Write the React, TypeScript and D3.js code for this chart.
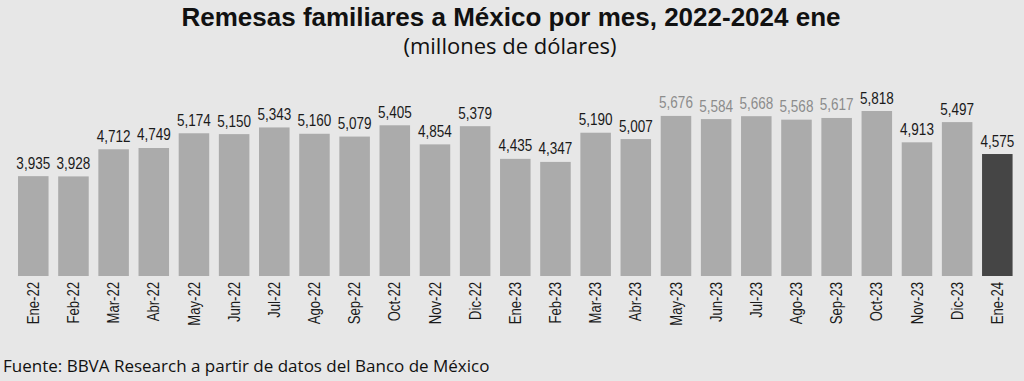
import React from "react";
import * as d3 from "d3";

const categories = [
  "Ene-22", "Feb-22", "Mar-22", "Abr-22", "May-22", "Jun-22", "Jul-22", "Ago-22", "Sep-22", "Oct-22", "Nov-22", "Dic-22",
  "Ene-23", "Feb-23", "Mar-23", "Abr-23", "May-23", "Jun-23", "Jul-23", "Ago-23", "Sep-23", "Oct-23", "Nov-23", "Dic-23",
  "Ene-24",
];
const values = [
  3935, 3928, 4712, 4749, 5174, 5150, 5343, 5160, 5079, 5405, 4854, 5379,
  4435, 4347, 5190, 5007, 5676, 5584, 5668, 5568, 5617, 5818, 4913, 5497,
  4575,
];
const highlighted = ["Ene-24"];
const preliminaryLabels = ["May-23", "Jun-23", "Jul-23", "Ago-23", "Sep-23"];

const title = "Remesas familiares a México por mes, 2022-2024 ene";
const subtitle = "(millones de dólares)";
const source = "Fuente: BBVA Research a partir de datos del Banco de México";

const W = 1024;
const H = 381;
const sans = "'Liberation Sans', Arial, sans-serif";
const open = "'Open Sans', 'Noto Sans', sans-serif";
const NARROW = 0.82;

export default function App() {
  const x = d3
    .scaleBand<string>()
    .domain(categories)
    .range([13.2, 1017.4])
    .paddingInner(0.24)
    .paddingOuter(0.12);
  const y = d3.scaleLinear().domain([1050, 5818]).range([276, 111]);
  const fmt = d3.format(",");

  return (
    <svg
      width={W}
      height={H}
      style={{ position: "absolute", left: 0, top: 0, display: "block" }}
    >
      <rect x={0} y={0} width={W} height={H} fill="#e7e7e7" />
      <text
        x={511}
        y={25.5}
        textAnchor="middle"
        fontFamily={sans}
        fontWeight="bold"
        fontSize={26}
        fill="#111"
      >
        {title}
      </text>
      <text
        x={510}
        y={54}
        textAnchor="middle"
        fontFamily={open}
        fontSize={22}
        fill="#111"
      >
        {subtitle}
      </text>
      {categories.map((c, i) => {
        const v = values[i];
        const bx = x(c)!;
        const bw = x.bandwidth();
        const top = y(v);
        const dark = highlighted.includes(c);
        const light = preliminaryLabels.includes(c);
        const cx = bx + bw / 2;
        return (
          <g key={c}>
            <rect
              x={bx}
              y={top}
              width={bw}
              height={y.range()[0] - top}
              fill={dark ? "#454545" : "#ababab"}
            />
            <text
              transform={`translate(${cx},${top - 7.5}) scale(${NARROW},1)`}
              textAnchor="middle"
              fontFamily={sans}
              fontSize={16.5}
              fill={light ? "#8c8c8c" : "#1a1a1a"}
            >
              {fmt(v)}
            </text>
            <text
              transform={`translate(${cx},282) rotate(-90) scale(${NARROW},1)`}
              textAnchor="end"
              dy="0.35em"
              fontFamily={sans}
              fontSize={16}
              fill="#1a1a1a"
            >
              {c}
            </text>
          </g>
        );
      })}
      <text x={3} y={372} fontFamily={open} fontSize={17} fill="#111">
        {source}
      </text>
    </svg>
  );
}
